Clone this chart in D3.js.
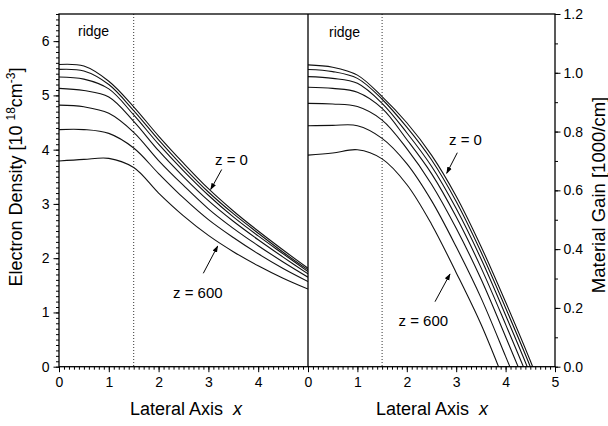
<!DOCTYPE html>
<html>
<head>
<meta charset="utf-8">
<script src="https://cdn.jsdelivr.net/npm/d3@7"></script>
<style>
  html, body { margin: 0; padding: 0; background: #fff; }
  svg { display: block; font-family: "Liberation Sans", Arial, sans-serif; }
</style>
</head>
<body>
<svg id="chart" width="608" height="426"></svg>
<script>
// Lateral position grid shared by every curve
const lateralX = [0, 0.5, 1, 1.5, 2, 2.5, 3, 3.5, 4, 4.5, 5];

// Electron density [10^18 cm^-3] for z = 0 ... 600
const densityZ0   = [5.57, 5.54, 5.26, 4.79, 4.25, 3.75, 3.28, 2.87, 2.50, 2.15, 1.815];
const densityZ100 = [5.48, 5.45, 5.20, 4.72, 4.18, 3.68, 3.22, 2.82, 2.46, 2.11, 1.784];
const densityZ200 = [5.34, 5.30, 5.12, 4.64, 4.10, 3.61, 3.16, 2.76, 2.41, 2.08, 1.753];
const densityZ300 = [5.13, 5.09, 4.97, 4.52, 3.98, 3.50, 3.06, 2.68, 2.34, 2.02, 1.71];
const densityZ400 = [4.82, 4.79, 4.67, 4.32, 3.80, 3.34, 2.91, 2.55, 2.23, 1.93, 1.65];
const densityZ500 = [4.37, 4.37, 4.30, 4.03, 3.56, 3.11, 2.71, 2.38, 2.08, 1.81, 1.57];
const densityZ600 = [3.79, 3.82, 3.84, 3.67, 3.20, 2.78, 2.42, 2.12, 1.86, 1.63, 1.43];

// Material gain [1000/cm] for z = 0 ... 600
const gainZ0   = [1.027, 1.019, 0.992, 0.919, 0.830, 0.720, 0.580, 0.410, 0.220, 0.020, -0.200];
const gainZ100 = [1.011, 1.004, 0.981, 0.910, 0.815, 0.704, 0.562, 0.391, 0.200, 0.000, -0.221];
const gainZ200 = [0.987, 0.981, 0.964, 0.896, 0.796, 0.682, 0.538, 0.368, 0.175, -0.026, -0.248];
const gainZ300 = [0.951, 0.947, 0.934, 0.879, 0.773, 0.657, 0.510, 0.338, 0.144, -0.058, -0.281];
const gainZ400 = [0.896, 0.894, 0.885, 0.839, 0.742, 0.621, 0.471, 0.299, 0.102, -0.102, -0.326];
const gainZ500 = [0.820, 0.821, 0.820, 0.777, 0.691, 0.565, 0.408, 0.235, 0.035, -0.171, -0.398];
const gainZ600 = [0.720, 0.727, 0.738, 0.707, 0.620, 0.485, 0.320, 0.145, -0.060, -0.270, -0.500];

const densitySeries = [densityZ0, densityZ100, densityZ200, densityZ300, densityZ400, densityZ500, densityZ600];
const gainSeries = [gainZ0, gainZ100, gainZ200, gainZ300, gainZ400, gainZ500, gainZ600];

// Axis ticks
const leftXTicks = [0, 1, 2, 3, 4];
const rightXTicks = [0, 1, 2, 3, 4, 5];
const densityTicks = [0, 1, 2, 3, 4, 5, 6];
const gainTicks = [0, 0.2, 0.4, 0.6, 0.8, 1.0, 1.2];
const ridgeEdge = 1.5;

const svg = d3.select("#chart");

const plotTop = 14, plotBottom = 366.7, plotLeft = 59, plotMid = 308, plotRight = 555;

const xL = d3.scaleLinear().domain([0, 5]).range([plotLeft, plotMid]);
const xR = d3.scaleLinear().domain([0, 5]).range([plotMid, plotRight]);
const yL = d3.scaleLinear().domain([0, 6.5]).range([plotBottom, plotTop]);
const yR = d3.scaleLinear().domain([0, 1.2]).range([plotBottom, plotTop]);

const minorRange = (a, b, s) => d3.range(Math.round(a / s), Math.round(b / s) + 1).map(i => +(i * s).toFixed(3));

// clip regions for the two panels
const defs = svg.append("defs");
defs.append("clipPath").attr("id", "clipL").append("rect")
  .attr("x", plotLeft).attr("y", plotTop).attr("width", plotMid - plotLeft).attr("height", plotBottom - plotTop);
defs.append("clipPath").attr("id", "clipR").append("rect")
  .attr("x", plotMid).attr("y", plotTop).attr("width", plotRight - plotMid).attr("height", plotBottom - plotTop);

function styleAxis(g, fontSize) {
  g.select(".domain").remove();
  g.selectAll(".tick line").attr("stroke", "#000").attr("stroke-width", 1);
  g.selectAll(".tick text").attr("fill", "#000").attr("font-size", fontSize)
    .attr("font-family", "Liberation Sans, Arial, sans-serif");
}

// bottom axes (minor then major)
svg.append("g").attr("transform", `translate(0,${plotBottom})`)
  .call(d3.axisBottom(xL).tickValues(minorRange(0, 4.9, 0.1)).tickSize(3).tickFormat(""))
  .call(g => styleAxis(g, 14));
svg.append("g").attr("transform", `translate(0,${plotBottom})`)
  .call(d3.axisBottom(xL).tickValues(leftXTicks).tickSize(5.5).tickPadding(5).tickFormat(d3.format("d")))
  .call(g => styleAxis(g, 14));
svg.append("g").attr("transform", `translate(0,${plotBottom})`)
  .call(d3.axisBottom(xR).tickValues(minorRange(0, 5, 0.1)).tickSize(3).tickFormat(""))
  .call(g => styleAxis(g, 14));
svg.append("g").attr("transform", `translate(0,${plotBottom})`)
  .call(d3.axisBottom(xR).tickValues(rightXTicks).tickSize(5.5).tickPadding(5).tickFormat(d3.format("d")))
  .call(g => styleAxis(g, 14));

// left density axis
svg.append("g").attr("transform", `translate(${plotLeft},0)`)
  .call(d3.axisLeft(yL).tickValues(minorRange(0, 6.5, 0.1)).tickSize(3).tickFormat(""))
  .call(g => styleAxis(g, 14));
svg.append("g").attr("transform", `translate(${plotLeft},0)`)
  .call(d3.axisLeft(yL).tickValues(densityTicks).tickSize(5.5).tickPadding(4).tickFormat(d3.format("d")))
  .call(g => styleAxis(g, 14));

// right gain axis
svg.append("g").attr("transform", `translate(${plotRight},0)`)
  .call(d3.axisRight(yR).tickValues(minorRange(0, 1.2, 0.1)).tickSize(3).tickFormat(""))
  .call(g => styleAxis(g, 14));
svg.append("g").attr("transform", `translate(${plotRight},0)`)
  .call(d3.axisRight(yR).tickValues(gainTicks).tickSize(5.5).tickPadding(3).tickFormat(d3.format(".1f")))
  .call(g => styleAxis(g, 14));

// ridge boundary (dotted)
[xL, xR].forEach(xs => {
  svg.append("line")
    .attr("x1", xs(ridgeEdge)).attr("x2", xs(ridgeEdge))
    .attr("y1", plotTop).attr("y2", plotBottom)
    .attr("stroke", "#000").attr("stroke-width", 0.8)
    .attr("stroke-dasharray", "1,2");
});

// curves
const lineL = d3.line().curve(d3.curveCatmullRom.alpha(0.5)).x((d, i) => xL(lateralX[i])).y(d => yL(d));
const lineR = d3.line().curve(d3.curveCatmullRom.alpha(0.5)).x((d, i) => xR(lateralX[i])).y(d => yR(d));

svg.append("g").attr("clip-path", "url(#clipL)")
  .selectAll("path").data(densitySeries).join("path")
  .attr("d", lineL).attr("fill", "none").attr("stroke", "#111").attr("stroke-width", 1.1);

svg.append("g").attr("clip-path", "url(#clipR)")
  .selectAll("path").data(gainSeries).join("path")
  .attr("d", lineR).attr("fill", "none").attr("stroke", "#111").attr("stroke-width", 1.1);

// frame
const frame = svg.append("g").attr("stroke", "#000").attr("stroke-width", 1.3).attr("fill", "none");
frame.append("rect").attr("x", plotLeft).attr("y", plotTop).attr("width", plotRight - plotLeft).attr("height", plotBottom - plotTop);
frame.append("line").attr("x1", plotMid).attr("x2", plotMid).attr("y1", plotTop).attr("y2", plotBottom);

// annotations
const annoFont = "Liberation Sans, Arial, sans-serif";
svg.append("text").attr("x", 78).attr("y", 36).attr("font-size", 14).attr("font-family", annoFont).text("ridge");
svg.append("text").attr("x", 329).attr("y", 37).attr("font-size", 14).attr("font-family", annoFont).text("ridge");

const annotations = [
  { text: "z = 0",   tx: 215, ty: 165, x1: 221.7, y1: 169.5, x2: 210.7, y2: 189.5 },
  { text: "z = 600", tx: 173, ty: 298, x1: 203.3, y1: 273.3, x2: 217.7, y2: 246 },
  { text: "z = 0",   tx: 449, ty: 145, x1: 457.3, y1: 152.7, x2: 446.7, y2: 173.3 },
  { text: "z = 600", tx: 398.5, ty: 326, x1: 435, y1: 301.7, x2: 450, y2: 274 }
];

defs.append("marker").attr("id", "arrow").attr("viewBox", "0 0 10 10")
  .attr("refX", 9).attr("refY", 5).attr("markerWidth", 7).attr("markerHeight", 7)
  .attr("markerUnits", "userSpaceOnUse").attr("orient", "auto")
  .append("path").attr("d", "M0,1.5 L10,5 L0,8.5 z").attr("fill", "#000");

annotations.forEach(a => {
  svg.append("text").attr("x", a.tx).attr("y", a.ty).attr("font-size", 15)
    .attr("font-family", annoFont).text(a.text);
  svg.append("line").attr("x1", a.x1).attr("y1", a.y1).attr("x2", a.x2).attr("y2", a.y2)
    .attr("stroke", "#000").attr("stroke-width", 1).attr("marker-end", "url(#arrow)");
});

// axis titles
function lateralTitle(cx) {
  const t = svg.append("text").attr("x", cx).attr("y", 415).attr("text-anchor", "middle")
    .attr("font-size", 18).attr("font-family", annoFont);
  t.append("tspan").text("Lateral Axis");
  t.append("tspan").attr("dx", 10).attr("font-style", "italic").text("x");
}
lateralTitle(186);
lateralTitle(432);

const yTitle = svg.append("text").attr("transform", "translate(22,177) rotate(-90)")
  .attr("text-anchor", "middle").attr("font-size", 18).attr("font-family", annoFont);
yTitle.append("tspan").text("Electron Density [10 ");
yTitle.append("tspan").attr("font-size", 12).attr("dy", -7).text("18");
yTitle.append("tspan").attr("dy", 7).text("cm");
yTitle.append("tspan").attr("font-size", 12).attr("dy", -7).text("-3");
yTitle.append("tspan").attr("dy", 7).text("]");

svg.append("text").attr("transform", "translate(605,195) rotate(-90)")
  .attr("text-anchor", "middle").attr("font-size", 18.5).attr("font-family", annoFont)
  .text("Material Gain [1000/cm]");
</script>
</body>
</html>
